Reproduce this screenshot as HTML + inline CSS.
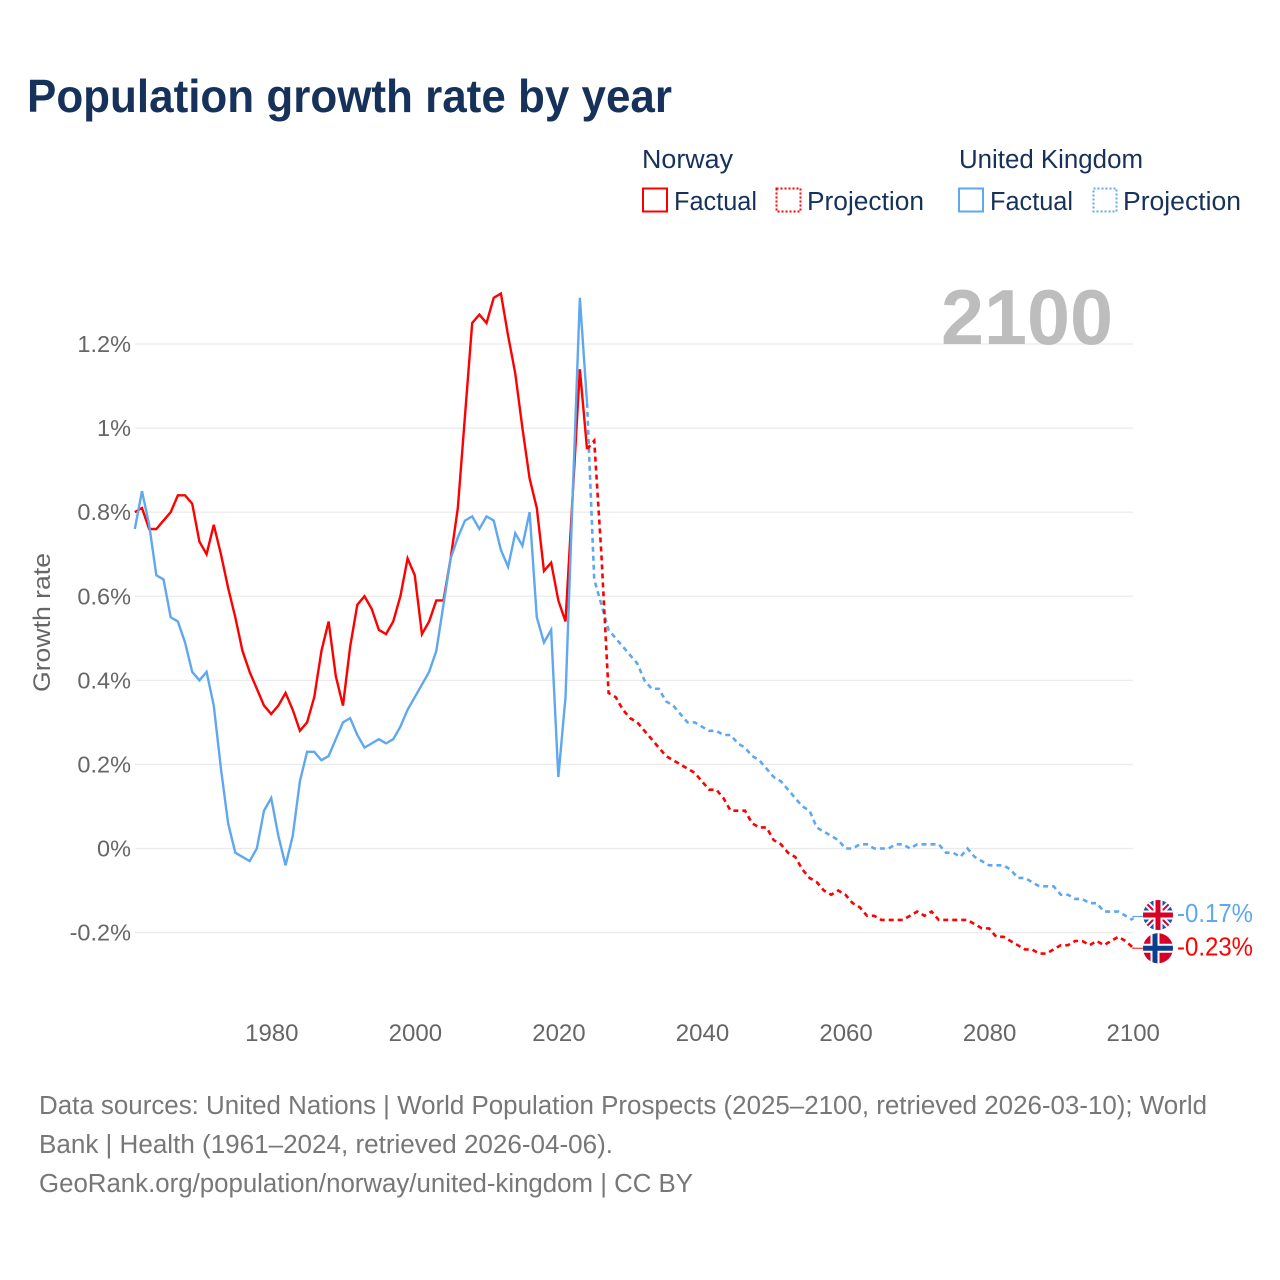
<!DOCTYPE html>
<html lang="en">
<head>
<meta charset="utf-8">
<title>Population growth rate by year</title>
<style>
html,body{margin:0;padding:0;background:#fff;}
svg{display:block;font-family:"Liberation Sans",Arial,sans-serif;}
</style>
</head>
<body>
<svg id="chart" xmlns="http://www.w3.org/2000/svg" width="1280" height="1280" viewBox="0 0 1280 1280">
  <defs>
    <clipPath id="flag-clip"><circle cx="0" cy="0" r="15"/></clipPath>
  </defs>
  <rect x="0" y="0" width="1280" height="1280" fill="#fff"/>
  <text x="27" y="112" font-size="46" font-weight="700" fill="#17325a" textLength="645" lengthAdjust="spacingAndGlyphs">Population growth rate by year</text>

  <g font-size="25.5" fill="#17325a">
    <text x="642" y="168" textLength="91" lengthAdjust="spacingAndGlyphs">Norway</text>
    <rect x="643" y="188.5" width="24" height="23" fill="none" stroke="#ff0000" stroke-width="2"/>
    <text x="674" y="210" textLength="83" lengthAdjust="spacingAndGlyphs">Factual</text>
    <rect x="776.5" y="188.5" width="24" height="23" fill="none" stroke="#ff0000" stroke-width="2" stroke-dasharray="2 2"/>
    <text x="807" y="210" textLength="117" lengthAdjust="spacingAndGlyphs">Projection</text>
    <text x="959" y="168" textLength="184" lengthAdjust="spacingAndGlyphs">United Kingdom</text>
    <rect x="959" y="188.5" width="24" height="23" fill="none" stroke="#5fa8f0" stroke-width="2"/>
    <text x="990" y="210" textLength="83" lengthAdjust="spacingAndGlyphs">Factual</text>
    <rect x="1093.5" y="188.5" width="23" height="23" fill="none" stroke="#5fa8f0" stroke-width="2" stroke-dasharray="2 2"/>
    <text x="1123" y="210" textLength="118" lengthAdjust="spacingAndGlyphs">Projection</text>
  </g>

  <g id="grid"></g>
  <text x="1113" y="344" text-anchor="end" font-size="78" font-weight="700" fill="#bdbdbd" textLength="172" lengthAdjust="spacingAndGlyphs">2100</text>
  <g id="y-axis" font-size="23.5" fill="#666"></g>
  <g id="x-axis" font-size="24" fill="#666"></g>
  <text transform="translate(50,622.5) rotate(-90)" text-anchor="middle" font-size="24.5" fill="#666" textLength="139" lengthAdjust="spacingAndGlyphs">Growth rate</text>

  <g id="series"></g>

  <g id="flag-uk">
    <g clip-path="url(#flag-clip)">
      <rect x="-16" y="-16" width="32" height="32" fill="#1457b0"/>
      <path d="M-16-16L16 16M16-16L-16 16" stroke="#fff" stroke-width="6"/>
      <path d="M-16-16L16 16M16-16L-16 16" stroke="#d80027" stroke-width="2"/>
      <path d="M0-16V16M-16 0H16" stroke="#fff" stroke-width="9"/>
      <path d="M0-16V16M-16 0H16" stroke="#d80027" stroke-width="5"/>
    </g>
  </g>
  <g id="flag-no">
    <g clip-path="url(#flag-clip)">
      <rect x="-16" y="-16" width="32" height="32" fill="#d80027"/>
      <path d="M-3-16V16M-16 0H16" stroke="#fff" stroke-width="9"/>
      <path d="M-3-16V16M-16 0H16" stroke="#0a3f8f" stroke-width="5"/>
    </g>
  </g>
  <g id="end-labels" font-size="26"></g>

  <g font-size="25.5" fill="#777">
    <text x="39" y="1114" textLength="1168" lengthAdjust="spacingAndGlyphs">Data sources: United Nations | World Population Prospects (2025–2100, retrieved 2026-03-10); World</text>
    <text x="39" y="1153" textLength="574" lengthAdjust="spacingAndGlyphs">Bank | Health (1961–2024, retrieved 2026-04-06).</text>
    <text x="39" y="1192" textLength="654" lengthAdjust="spacingAndGlyphs">GeoRank.org/population/norway/united-kingdom | CC BY</text>
  </g>
</svg>

<script>
const factualStartYear = 1961;
const projectionStartYear = 2024;
const xTicks = [1980, 2000, 2020, 2040, 2060, 2080, 2100];
const yTicks = [-0.2, 0, 0.2, 0.4, 0.6, 0.8, 1, 1.2];
const yTickLabels = ['-0.2%', '0%', '0.2%', '0.4%', '0.6%', '0.8%', '1%', '1.2%'];
const norwayFactual = [0.80,0.81,0.76,0.76,0.78,0.80,0.84,0.84,0.82,0.73,0.70,0.77,0.70,0.62,0.55,0.47,0.42,0.38,0.34,0.32,0.34,0.37,0.33,0.28,0.30,0.36,0.47,0.54,0.41,0.34,0.48,0.58,0.60,0.57,0.52,0.51,0.54,0.60,0.69,0.65,0.51,0.54,0.59,0.59,0.69,0.81,1.03,1.25,1.27,1.25,1.31,1.32,1.22,1.13,1.00,0.88,0.81,0.66,0.68,0.59,0.54,0.84,1.14,0.95];
const ukFactual = [0.76,0.85,0.77,0.65,0.64,0.55,0.54,0.49,0.42,0.40,0.42,0.34,0.19,0.06,-0.01,-0.02,-0.03,0.00,0.09,0.12,0.03,-0.04,0.03,0.16,0.23,0.23,0.21,0.22,0.26,0.30,0.31,0.27,0.24,0.25,0.26,0.25,0.26,0.29,0.33,0.36,0.39,0.42,0.47,0.58,0.69,0.74,0.78,0.79,0.76,0.79,0.78,0.71,0.67,0.75,0.72,0.80,0.55,0.49,0.52,0.17,0.36,0.84,1.31,1.06];
const norwayProjection = [0.95,0.97,0.70,0.37,0.36,0.33,0.31,0.30,0.28,0.26,0.24,0.22,0.21,0.20,0.19,0.18,0.16,0.14,0.14,0.12,0.09,0.09,0.09,0.06,0.05,0.05,0.02,0.01,-0.01,-0.02,-0.05,-0.07,-0.08,-0.10,-0.11,-0.10,-0.11,-0.13,-0.14,-0.16,-0.16,-0.17,-0.17,-0.17,-0.17,-0.16,-0.15,-0.16,-0.15,-0.17,-0.17,-0.17,-0.17,-0.17,-0.18,-0.19,-0.19,-0.21,-0.21,-0.22,-0.23,-0.24,-0.24,-0.25,-0.25,-0.24,-0.23,-0.23,-0.22,-0.22,-0.23,-0.22,-0.23,-0.22,-0.21,-0.22,-0.235];
const ukProjection = [1.06,0.64,0.58,0.52,0.50,0.48,0.46,0.44,0.40,0.38,0.38,0.35,0.34,0.32,0.30,0.30,0.29,0.28,0.28,0.27,0.27,0.25,0.24,0.22,0.21,0.19,0.17,0.16,0.14,0.12,0.10,0.09,0.05,0.04,0.03,0.02,0.00,0.00,0.01,0.01,0.00,0.00,0.00,0.01,0.01,0.00,0.01,0.01,0.01,0.01,-0.01,-0.01,-0.02,0.00,-0.02,-0.03,-0.04,-0.04,-0.04,-0.05,-0.07,-0.07,-0.08,-0.09,-0.09,-0.09,-0.11,-0.11,-0.12,-0.12,-0.13,-0.13,-0.15,-0.15,-0.15,-0.16,-0.17];
const endLabelTexts = ['-0.17%', '-0.23%'];

const SVG_NS = 'http://www.w3.org/2000/svg';
const RED = '#ff0000';
const BLUE = '#5fa8f0';

function xScale(year) {
  return 134.8 + (year - 1961) * (1132.6 - 134.8) / (2100 - 1961);
}
function tickX(year) {
  return xScale(year) + 0.6;
}
function yScale(value) {
  return 848.5 - value * 420.4;
}
function linePath(values, startYear) {
  return values.map(function (v, i) {
    return (i ? 'L' : 'M') + xScale(startYear + i).toFixed(2) + ' ' + yScale(v).toFixed(2);
  }).join('');
}

const grid = document.getElementById('grid');
const yAxis = document.getElementById('y-axis');
const xAxis = document.getElementById('x-axis');
const seriesGroup = document.getElementById('series');
const endLabels = document.getElementById('end-labels');

yTicks.forEach(function (tick, i) {
  const gridLine = document.createElementNS(SVG_NS, 'line');
  
  
  gridLine.setAttribute('x1', 135);
  gridLine.setAttribute('x2', 1133);
  gridLine.setAttribute('y1', yScale(tick));
  gridLine.setAttribute('y2', yScale(tick));
  gridLine.setAttribute('stroke', '#ebebeb');
  gridLine.setAttribute('stroke-width', '1.3');
  grid.appendChild(gridLine);

  const label = document.createElementNS(SVG_NS, 'text');
  
  
  label.setAttribute('x', 131);
  label.setAttribute('y', yScale(tick) + 8);
  label.setAttribute('text-anchor', 'end');
  label.textContent = yTickLabels[i];
  yAxis.appendChild(label);
});

xTicks.forEach(function (tick) {
  const label = document.createElementNS(SVG_NS, 'text');
  
  
  label.setAttribute('x', tickX(tick));
  label.setAttribute('y', 1041);
  label.setAttribute('text-anchor', 'middle');
  label.textContent = String(tick);
  xAxis.appendChild(label);
});

const norwayFactualLine = document.createElementNS(SVG_NS, 'path');


norwayFactualLine.setAttribute('d', linePath(norwayFactual, factualStartYear));
norwayFactualLine.setAttribute('fill', 'none');
norwayFactualLine.setAttribute('stroke', RED);
norwayFactualLine.setAttribute('stroke-width', '2.4');
norwayFactualLine.setAttribute('stroke-linejoin', 'miter');
seriesGroup.appendChild(norwayFactualLine);

const ukFactualLine = document.createElementNS(SVG_NS, 'path');


ukFactualLine.setAttribute('d', linePath(ukFactual, factualStartYear));
ukFactualLine.setAttribute('fill', 'none');
ukFactualLine.setAttribute('stroke', BLUE);
ukFactualLine.setAttribute('stroke-width', '2.4');
ukFactualLine.setAttribute('stroke-linejoin', 'miter');
seriesGroup.appendChild(ukFactualLine);

const ukProjectionLine = document.createElementNS(SVG_NS, 'path');


ukProjectionLine.setAttribute('d', linePath(ukProjection, projectionStartYear));
ukProjectionLine.setAttribute('fill', 'none');
ukProjectionLine.setAttribute('stroke', BLUE);
ukProjectionLine.setAttribute('stroke-width', '2.6');
ukProjectionLine.setAttribute('stroke-dasharray', '5 4');
seriesGroup.appendChild(ukProjectionLine);

const norwayProjectionLine = document.createElementNS(SVG_NS, 'path');


norwayProjectionLine.setAttribute('d', linePath(norwayProjection, projectionStartYear));
norwayProjectionLine.setAttribute('fill', 'none');
norwayProjectionLine.setAttribute('stroke', RED);
norwayProjectionLine.setAttribute('stroke-width', '2.6');
norwayProjectionLine.setAttribute('stroke-dasharray', '5 4');
seriesGroup.appendChild(norwayProjectionLine);

const ukEndValue = ukProjection[ukProjection.length - 1];
const norwayEndValue = norwayProjection[norwayProjection.length - 1];
const ukFlagY = yScale(ukEndValue) - 5;
const norwayFlagY = yScale(norwayEndValue) + 1;
const flagX = 1158;

document.getElementById('flag-uk').setAttribute('transform', 'translate(' + flagX + ',' + ukFlagY + ')');
document.getElementById('flag-no').setAttribute('transform', 'translate(' + flagX + ',' + norwayFlagY + ')');

const ukLeader = document.createElementNS(SVG_NS, 'path');


ukLeader.setAttribute('d', 'M1133 ' + yScale(ukEndValue) + 'V' + (ukFlagY + 1.5) + 'H' + (flagX - 14));
ukLeader.setAttribute('fill', 'none');
ukLeader.setAttribute('stroke', BLUE);
ukLeader.setAttribute('stroke-width', '1.3');
seriesGroup.appendChild(ukLeader);

const norwayLeader = document.createElementNS(SVG_NS, 'path');


norwayLeader.setAttribute('d', 'M1133 ' + yScale(norwayEndValue) + 'V' + norwayFlagY + 'H' + (flagX - 14));
norwayLeader.setAttribute('fill', 'none');
norwayLeader.setAttribute('stroke', RED);
norwayLeader.setAttribute('stroke-width', '1.3');
norwayLeader.setAttribute('stroke-opacity', '0.7');
seriesGroup.appendChild(norwayLeader);

const ukEndLabel = document.createElementNS(SVG_NS, 'text');


ukEndLabel.setAttribute('x', 1177);
ukEndLabel.setAttribute('y', ukFlagY + 7);
ukEndLabel.setAttribute('fill', BLUE);
ukEndLabel.setAttribute('textLength', '76');
ukEndLabel.setAttribute('lengthAdjust', 'spacingAndGlyphs');
ukEndLabel.textContent = endLabelTexts[0];
endLabels.appendChild(ukEndLabel);

const norwayEndLabel = document.createElementNS(SVG_NS, 'text');


norwayEndLabel.setAttribute('x', 1177);
norwayEndLabel.setAttribute('y', norwayFlagY + 7);
norwayEndLabel.setAttribute('fill', RED);
norwayEndLabel.setAttribute('textLength', '76');
norwayEndLabel.setAttribute('lengthAdjust', 'spacingAndGlyphs');
norwayEndLabel.textContent = endLabelTexts[1];
endLabels.appendChild(norwayEndLabel);
</script>
</body>
</html>
